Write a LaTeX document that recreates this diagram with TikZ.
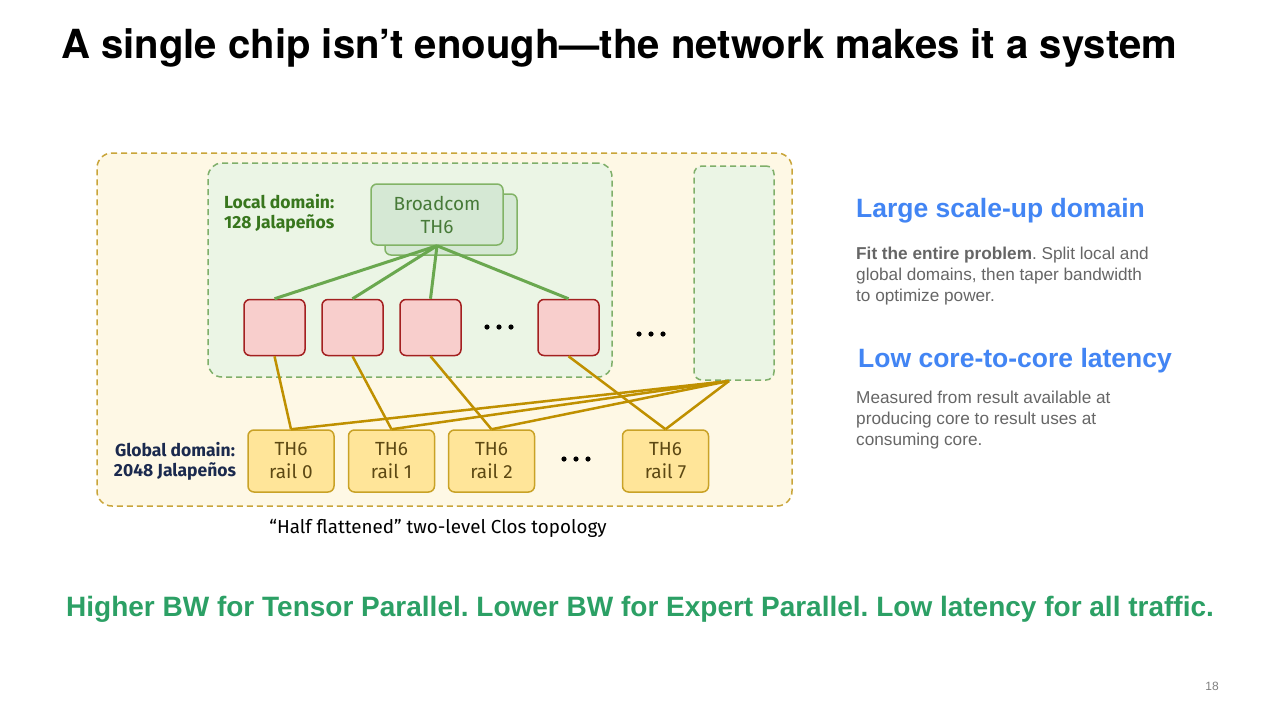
\documentclass[tikz,border=0pt]{standalone}
\usepackage{fontspec}
\setmainfont{Liberation Sans}
\newfontfamily\diagfont{Fira Sans}
\newfontfamily\titlefont{TeX Gyre Heros}
\usetikzlibrary{calc}
\usepackage{color}
\frenchspacing

\definecolor{globalfill}{HTML}{FEF8E5}
\definecolor{globalline}{HTML}{C9A53A}
\definecolor{localfill}{HTML}{EBF5E5}
\definecolor{localline}{HTML}{7FAF6A}
\definecolor{switchfill}{HTML}{D5E8D4}
\definecolor{switchline}{HTML}{82B366}
\definecolor{switchtext}{HTML}{477A38}
\definecolor{chipfill}{HTML}{F8CECC}
\definecolor{chipline}{HTML}{A32020}
\definecolor{railfill}{HTML}{FFE599}
\definecolor{railline}{HTML}{C9A227}
\definecolor{railtext}{HTML}{5C4813}
\definecolor{uplink}{HTML}{6AA84F}
\definecolor{downlink}{HTML}{BF9000}
\definecolor{localtext}{HTML}{38761D}
\definecolor{globaltext}{HTML}{1B2A4E}
\definecolor{headblue}{HTML}{4285F4}
\definecolor{bodygray}{HTML}{666666}
\definecolor{takeaway}{HTML}{2CA065}

\begin{document}
\begin{tikzpicture}
        [x=1pt,y=-1pt,auto=left]
            \tikzstyle{every node}=[inner sep=0pt, font=\diagfont]
            \tikzstyle{globalbox}=[draw=globalline, fill=globalfill, line width=1.5pt,
        dash pattern=on 6pt off 4pt, rounded corners=15pt]
            \tikzstyle{localbox}=[draw=localline, fill=localfill, line width=1.5pt,
        dash pattern=on 6pt off 4pt, rounded corners=14pt]
            \tikzstyle{switch}=[draw=switchline, fill=switchfill, line width=1.5pt,
        rounded corners=6pt, minimum width=132pt, minimum height=61pt, align=center,
        text=switchtext, font=\diagfont\fontsize{19}{23}\selectfont]
            \tikzstyle{chip}=[draw=chipline, fill=chipfill, line width=1.5pt,
        rounded corners=6pt, minimum width=61pt, minimum height=56pt]
            \tikzstyle{rail}=[draw=railline, fill=railfill, line width=1.5pt,
        rounded corners=6pt, minimum width=86pt, minimum height=62pt, align=center,
        text=railtext, font=\diagfont\fontsize{19}{23}\selectfont]
            \tikzstyle{head}=[anchor=west, text=headblue,
        font=\bfseries\fontsize{26.5}{30}\selectfont]
            \tikzstyle{body}=[anchor=north west, align=left, text=bodygray,
        font=\fontsize{17.2}{21}\selectfont]
        \useasboundingbox[fill=white] (0,0) rectangle (1280,721);
        %-----title
         \node[anchor=base west, font=\titlefont\bfseries\fontsize{40.1}{48}\selectfont]
         (title) at (61,58) {A single chip isn’t enough—the network makes it a system};
        %-----domains
         \node[globalbox, minimum width=695pt, minimum height=353pt]  (GD) at (444.5,329.5) {};
         \node[localbox, minimum width=404pt, minimum height=214pt]  (LD) at (410,270) {};
         \node[localbox, rounded corners=8pt, minimum width=80pt, minimum height=214pt]  (LD2) at (734,273) {};
         \coordinate (LD2s) at (729,381);
         \node[anchor=west, align=left, text=localtext, font=\diagfont\bfseries\fontsize{17.5}{20}\selectfont]
         (LDtxt) at (224,213) {Local domain:\\128 Jalapeños};
         \node[align=center, text=globaltext, font=\diagfont\bfseries\fontsize{17.5}{20}\selectfont]
         (GDtxt) at (175,461) {Global domain:\\2048 Jalapeños};
        %-----local switch
         \node[switch]  (BCb) at (451,224.5) {};
         \node[switch]  (BC) at (437,214.5) {Broadcom\\TH6};
        %-----chips
         \node[chip]  (C1) at (274.5,327.5) {};
         \node[chip]  (C2) at (352.5,327.5) {};
         \node[chip]  (C3) at (430.5,327.5) {};
         \node[chip]  (C4) at (568.5,327.5) {};
        %-----rails
         \node[rail]  (R0) at (291,461) {TH6\\rail 0};
         \node[rail]  (R1) at (391.5,461) {TH6\\rail 1};
         \node[rail]  (R2) at (491.5,461) {TH6\\rail 2};
         \node[rail]  (R7) at (665.5,461) {TH6\\rail 7};
         \node[font=\diagfont\fontsize{18.8}{22}\selectfont]  (cap) at (438,528)
         {“Half flattened” two-level Clos topology};
        %-----dots
         \foreach \cx/\cy in {499/327,651/334,576/459}
         \foreach \dx in {-12,0,12}
         \fill (\cx+\dx,\cy) circle (2.6pt);

         \foreach \to in {C1,C2,C3,C4}
         \draw[uplink, line width=3pt] (BC.south) -- (\to.north);
         \foreach \from/\to in {C1/R0,C2/R1,C3/R2,C4/R7}
         \draw[downlink, line width=2.5pt] (\from.south) -- (\to.north);
         \foreach \to in {R0,R1,R2,R7}
         \draw[downlink, line width=2.5pt] (LD2s) -- (\to.north);
        %-----right column
         \node[head]  (H1) at (856,211) {Large scale-up domain};
         \node[body]  (B1) at (856,247) {\textbf{Fit the entire problem}. Split local and\\
         global domains, then taper bandwidth\\to optimize power.};
         \node[head]  (H2) at (858,361) {Low core-to-core latency};
         \node[body]  (B2) at (856,391) {Measured from result available at\\
         producing core to result uses at\\consuming core.};
        %-----footer
         \node[anchor=west, text=takeaway, font=\bfseries\fontsize{28}{32}\selectfont]
         (take) at (66,609) {Higher BW for Tensor Parallel. Lower BW for Expert Parallel. Low latency for all traffic.};
         \node[text=gray, font=\fontsize{12}{14}\selectfont]  (page) at (1212,686) {18};
        \end{tikzpicture}
\end{document}
